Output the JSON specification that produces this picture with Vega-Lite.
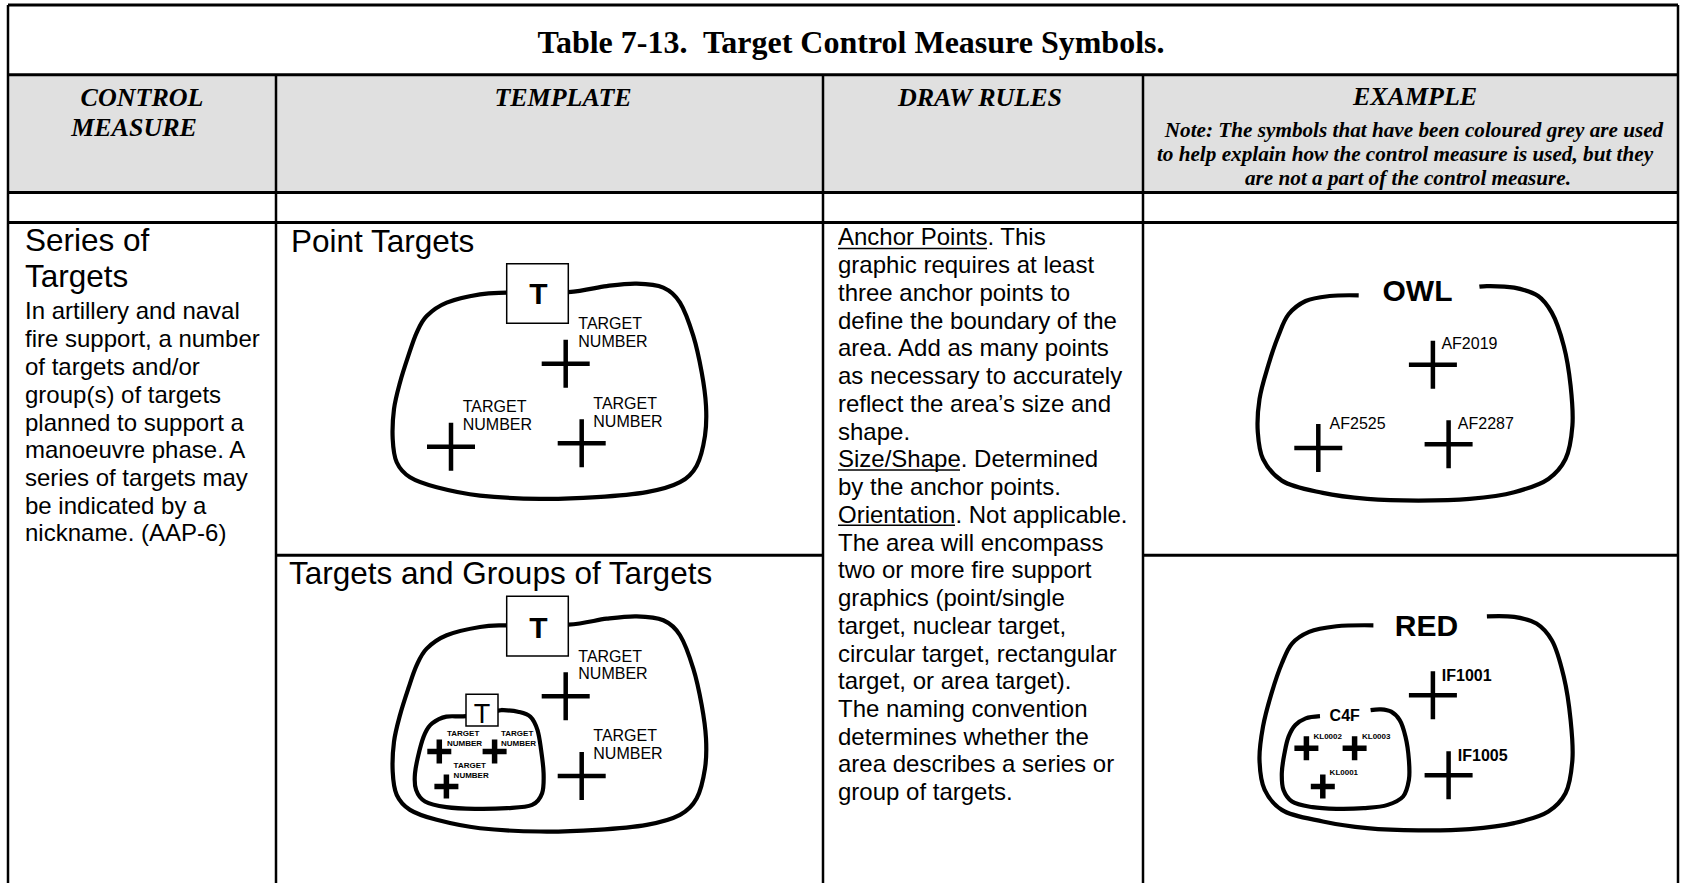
{
  "$schema": "https://vega.github.io/schema/vega-lite/v6.json",
  "width": 1681,
  "height": 885,
  "autosize": {"type": "fit", "contains": "padding"},
  "padding": 0,
  "background": "white",
  "config": {"view": {"stroke": null}},
  "datasets": {
    "band": [{"x": 8, "x2": 1678, "y": 75, "y2": 193}],
    "hlines": [
      {"x": 8, "x2": 1678, "y": 5},
      {"x": 8, "x2": 1678, "y": 75},
      {"x": 8, "x2": 1678, "y": 193},
      {"x": 8, "x2": 1678, "y": 223},
      {"x": 276, "x2": 823, "y": 556.5},
      {"x": 1143, "x2": 1678, "y": 556.5}
    ],
    "vlines": [
      {"x": 8, "y": 5, "y2": 885},
      {"x": 1678, "y": 5, "y2": 885},
      {"x": 276, "y": 75, "y2": 885},
      {"x": 823, "y": 75, "y2": 885},
      {"x": 1143, "y": 75, "y2": 885}
    ],
    "underlines": [
      {"x": 838, "x2": 987, "y": 249},
      {"x": 838, "x2": 960, "y": 471},
      {"x": 838, "x2": 955, "y": 526.5}
    ],
    "closed": [
      {"id": "pt", "i": 1, "x": 506.7, "y": 293.3},
      {"id": "pt", "i": 2, "x": 480, "y": 295},
      {"id": "pt", "i": 3, "x": 446.7, "y": 303.3},
      {"id": "pt", "i": 4, "x": 426.7, "y": 316.7},
      {"id": "pt", "i": 5, "x": 416.7, "y": 333.3},
      {"id": "pt", "i": 6, "x": 408.3, "y": 356.7},
      {"id": "pt", "i": 7, "x": 400, "y": 383.3},
      {"id": "pt", "i": 8, "x": 394, "y": 410},
      {"id": "pt", "i": 9, "x": 392.7, "y": 440},
      {"id": "pt", "i": 10, "x": 396.7, "y": 463.3},
      {"id": "pt", "i": 11, "x": 410, "y": 478.3},
      {"id": "pt", "i": 12, "x": 436.7, "y": 488.3},
      {"id": "pt", "i": 13, "x": 480, "y": 496.7},
      {"id": "pt", "i": 14, "x": 540, "y": 500},
      {"id": "pt", "i": 15, "x": 596.7, "y": 498.3},
      {"id": "pt", "i": 16, "x": 646.7, "y": 493.3},
      {"id": "pt", "i": 17, "x": 680, "y": 483.3},
      {"id": "pt", "i": 18, "x": 696.7, "y": 466.7},
      {"id": "pt", "i": 19, "x": 705, "y": 436.7},
      {"id": "pt", "i": 20, "x": 706, "y": 406.7},
      {"id": "pt", "i": 21, "x": 701.7, "y": 373.3},
      {"id": "pt", "i": 22, "x": 693.3, "y": 336.7},
      {"id": "pt", "i": 23, "x": 680, "y": 303.3},
      {"id": "pt", "i": 24, "x": 663.3, "y": 288.3},
      {"id": "pt", "i": 25, "x": 636.7, "y": 284.3},
      {"id": "pt", "i": 26, "x": 606.7, "y": 286.7},
      {"id": "pt", "i": 27, "x": 568.3, "y": 292.7},
      {"id": "tg", "i": 1, "x": 506.7, "y": 626.7},
      {"id": "tg", "i": 2, "x": 480, "y": 628.4},
      {"id": "tg", "i": 3, "x": 446.7, "y": 636.7},
      {"id": "tg", "i": 4, "x": 426.7, "y": 650.1},
      {"id": "tg", "i": 5, "x": 416.7, "y": 666.7},
      {"id": "tg", "i": 6, "x": 408.3, "y": 690.1},
      {"id": "tg", "i": 7, "x": 400, "y": 716.7},
      {"id": "tg", "i": 8, "x": 394, "y": 743.4},
      {"id": "tg", "i": 9, "x": 392.7, "y": 773.4},
      {"id": "tg", "i": 10, "x": 396.7, "y": 796.7},
      {"id": "tg", "i": 11, "x": 410, "y": 811.7},
      {"id": "tg", "i": 12, "x": 436.7, "y": 821.7},
      {"id": "tg", "i": 13, "x": 480, "y": 830.1},
      {"id": "tg", "i": 14, "x": 540, "y": 833.4},
      {"id": "tg", "i": 15, "x": 596.7, "y": 831.7},
      {"id": "tg", "i": 16, "x": 646.7, "y": 826.7},
      {"id": "tg", "i": 17, "x": 680, "y": 816.7},
      {"id": "tg", "i": 18, "x": 696.7, "y": 800.1},
      {"id": "tg", "i": 19, "x": 705, "y": 770.1},
      {"id": "tg", "i": 20, "x": 706, "y": 740.1},
      {"id": "tg", "i": 21, "x": 701.7, "y": 706.7},
      {"id": "tg", "i": 22, "x": 693.3, "y": 670.1},
      {"id": "tg", "i": 23, "x": 680, "y": 636.7},
      {"id": "tg", "i": 24, "x": 663.3, "y": 621.7},
      {"id": "tg", "i": 25, "x": 636.7, "y": 617.7},
      {"id": "tg", "i": 26, "x": 606.7, "y": 620.1},
      {"id": "tg", "i": 27, "x": 568.3, "y": 626.1},
      {"id": "sg", "i": 1, "x": 466.1, "y": 717.7},
      {"id": "sg", "i": 2, "x": 446.4, "y": 718.3},
      {"id": "sg", "i": 3, "x": 432.1, "y": 725},
      {"id": "sg", "i": 4, "x": 425, "y": 735},
      {"id": "sg", "i": 5, "x": 419.6, "y": 751.7},
      {"id": "sg", "i": 6, "x": 415, "y": 775},
      {"id": "sg", "i": 7, "x": 416.1, "y": 791.7},
      {"id": "sg", "i": 8, "x": 425, "y": 803.3},
      {"id": "sg", "i": 9, "x": 446.4, "y": 809},
      {"id": "sg", "i": 10, "x": 475, "y": 810.7},
      {"id": "sg", "i": 11, "x": 507.1, "y": 810},
      {"id": "sg", "i": 12, "x": 532.1, "y": 806.7},
      {"id": "sg", "i": 13, "x": 542.1, "y": 795},
      {"id": "sg", "i": 14, "x": 543.6, "y": 775},
      {"id": "sg", "i": 15, "x": 541.1, "y": 751.7},
      {"id": "sg", "i": 16, "x": 537.5, "y": 731.7},
      {"id": "sg", "i": 17, "x": 530.4, "y": 718.3},
      {"id": "sg", "i": 18, "x": 517.9, "y": 713.3},
      {"id": "sg", "i": 19, "x": 503.6, "y": 711.7},
      {"id": "sg", "i": 20, "x": 498.2, "y": 712.3}
    ],
    "open": [
      {"id": "owl", "i": 1, "x": 1358.7, "y": 296},
      {"id": "owl", "i": 2, "x": 1329.6, "y": 296.7},
      {"id": "owl", "i": 3, "x": 1305.7, "y": 301.7},
      {"id": "owl", "i": 4, "x": 1288.6, "y": 315},
      {"id": "owl", "i": 5, "x": 1278.3, "y": 336.7},
      {"id": "owl", "i": 6, "x": 1268.1, "y": 366.7},
      {"id": "owl", "i": 7, "x": 1259.5, "y": 400},
      {"id": "owl", "i": 8, "x": 1257.8, "y": 433.3},
      {"id": "owl", "i": 9, "x": 1263, "y": 460},
      {"id": "owl", "i": 10, "x": 1281.8, "y": 481.7},
      {"id": "owl", "i": 11, "x": 1322.8, "y": 494},
      {"id": "owl", "i": 12, "x": 1367.2, "y": 500},
      {"id": "owl", "i": 13, "x": 1418.5, "y": 501.7},
      {"id": "owl", "i": 14, "x": 1469.8, "y": 500},
      {"id": "owl", "i": 15, "x": 1514.2, "y": 493.3},
      {"id": "owl", "i": 16, "x": 1548.4, "y": 480},
      {"id": "owl", "i": 17, "x": 1565.5, "y": 460},
      {"id": "owl", "i": 18, "x": 1572.4, "y": 426.7},
      {"id": "owl", "i": 19, "x": 1570.6, "y": 386.7},
      {"id": "owl", "i": 20, "x": 1563.8, "y": 346.7},
      {"id": "owl", "i": 21, "x": 1551.8, "y": 313.3},
      {"id": "owl", "i": 22, "x": 1538.2, "y": 296.7},
      {"id": "owl", "i": 23, "x": 1514.2, "y": 288.3},
      {"id": "owl", "i": 24, "x": 1486.9, "y": 286.7},
      {"id": "owl", "i": 25, "x": 1479.4, "y": 287.3},
      {"id": "red", "i": 1, "x": 1373.4, "y": 626.7},
      {"id": "red", "i": 2, "x": 1336.5, "y": 627.7},
      {"id": "red", "i": 3, "x": 1309.1, "y": 633.3},
      {"id": "red", "i": 4, "x": 1292, "y": 645},
      {"id": "red", "i": 5, "x": 1281.8, "y": 665},
      {"id": "red", "i": 6, "x": 1271.5, "y": 695},
      {"id": "red", "i": 7, "x": 1263, "y": 728.3},
      {"id": "red", "i": 8, "x": 1259.5, "y": 761.7},
      {"id": "red", "i": 9, "x": 1264.7, "y": 791.7},
      {"id": "red", "i": 10, "x": 1281.8, "y": 811.7},
      {"id": "red", "i": 11, "x": 1322.8, "y": 823.3},
      {"id": "red", "i": 12, "x": 1367.2, "y": 830},
      {"id": "red", "i": 13, "x": 1418.5, "y": 832.3},
      {"id": "red", "i": 14, "x": 1469.8, "y": 831},
      {"id": "red", "i": 15, "x": 1514.2, "y": 825},
      {"id": "red", "i": 16, "x": 1548.4, "y": 813.3},
      {"id": "red", "i": 17, "x": 1565.5, "y": 795},
      {"id": "red", "i": 18, "x": 1572.4, "y": 761.7},
      {"id": "red", "i": 19, "x": 1570.6, "y": 721.7},
      {"id": "red", "i": 20, "x": 1563.8, "y": 678.3},
      {"id": "red", "i": 21, "x": 1551.8, "y": 641.7},
      {"id": "red", "i": 22, "x": 1536.5, "y": 625},
      {"id": "red", "i": 23, "x": 1514.2, "y": 618.3},
      {"id": "red", "i": 24, "x": 1486.9, "y": 617.7},
      {"id": "c4f", "i": 1, "x": 1320, "y": 717.7},
      {"id": "c4f", "i": 2, "x": 1305.7, "y": 720},
      {"id": "c4f", "i": 3, "x": 1295.4, "y": 726.7},
      {"id": "c4f", "i": 4, "x": 1288.6, "y": 738.3},
      {"id": "c4f", "i": 5, "x": 1284.5, "y": 755},
      {"id": "c4f", "i": 6, "x": 1281.8, "y": 775},
      {"id": "c4f", "i": 7, "x": 1283.5, "y": 791.7},
      {"id": "c4f", "i": 8, "x": 1292, "y": 803.3},
      {"id": "c4f", "i": 9, "x": 1312.5, "y": 809},
      {"id": "c4f", "i": 10, "x": 1336.5, "y": 810.7},
      {"id": "c4f", "i": 11, "x": 1363.8, "y": 810},
      {"id": "c4f", "i": 12, "x": 1387.7, "y": 806.7},
      {"id": "c4f", "i": 13, "x": 1403.1, "y": 798.3},
      {"id": "c4f", "i": 14, "x": 1408.9, "y": 781.7},
      {"id": "c4f", "i": 15, "x": 1408.9, "y": 761.7},
      {"id": "c4f", "i": 16, "x": 1405.5, "y": 738.3},
      {"id": "c4f", "i": 17, "x": 1399.7, "y": 721.7},
      {"id": "c4f", "i": 18, "x": 1391.2, "y": 713.3},
      {"id": "c4f", "i": 19, "x": 1380.9, "y": 711},
      {"id": "c4f", "i": 20, "x": 1370.6, "y": 711.7}
    ],
    "boxes": [
      {"x": 506.7, "x2": 568.3, "y": 264.3, "y2": 324},
      {"x": 506.7, "x2": 568.3, "y": 597.7, "y2": 657.4},
      {"x": 466, "x2": 498, "y": 695.7, "y2": 727.7}
    ],
    "crossBig": [
      {"x": 565.7, "y": 364.5}, {"x": 451, "y": 447.7}, {"x": 581.7, "y": 444.3},
      {"x": 565.7, "y": 697.9}, {"x": 581.7, "y": 777.7},
      {"x": 1432.9, "y": 365.7}, {"x": 1318.3, "y": 449}, {"x": 1448.6, "y": 445.3},
      {"x": 1432.9, "y": 696.7}, {"x": 1448.6, "y": 777}
    ],
    "crossSmall": [
      {"x": 439.3, "y": 753.3}, {"x": 494.6, "y": 753.3}, {"x": 446.4, "y": 788.3},
      {"x": 1306.4, "y": 750}, {"x": 1354.6, "y": 750}, {"x": 1322.8, "y": 788.3}
    ],
    "title": [{"x": 851, "y": 53, "t": "Table 7-13.\u00a0 Target Control Measure Symbols."}],
    "heads": [
      {"x": 142, "y": 106, "t": "CONTROL"},
      {"x": 134, "y": 136, "t": "MEASURE"},
      {"x": 563, "y": 106, "t": "TEMPLATE"},
      {"x": 980, "y": 106, "t": "DRAW RULES"},
      {"x": 1415, "y": 105.7, "t": "EXAMPLE"}
    ],
    "note": [
      {"x": 1414, "y": 137.3, "t": "Note: The symbols that have been coloured grey are used"},
      {"x": 1405, "y": 161.7, "t": "to help explain how the control measure is used, but they"},
      {"x": 1408, "y": 185, "t": "are not a part of the control measure."}
    ],
    "large": [
      {"x": 25, "y": 252, "t": "Series of"},
      {"x": 25, "y": 288, "t": "Targets"},
      {"x": 291, "y": 252.7, "t": "Point Targets"},
      {"x": 289, "y": 585, "t": "Targets and Groups of Targets"}
    ],
    "body": [
      {"x": 25, "y": 320, "t": "In artillery and naval"},
      {"x": 25, "y": 347.7, "t": "fire support, a number"},
      {"x": 25, "y": 375.7, "t": "of targets and/or"},
      {"x": 25, "y": 403.7, "t": "group(s) of targets"},
      {"x": 25, "y": 431.7, "t": "planned to support a"},
      {"x": 25, "y": 459.3, "t": "manoeuvre phase. A"},
      {"x": 25, "y": 487.3, "t": "series of targets may"},
      {"x": 25, "y": 515.3, "t": "be indicated by a"},
      {"x": 25, "y": 542.7, "t": "nickname. (AAP-6)"},
      {"x": 838, "y": 246, "t": "Anchor Points. This"},
      {"x": 838, "y": 273.8, "t": "graphic requires at least"},
      {"x": 838, "y": 301.6, "t": "three anchor points to"},
      {"x": 838, "y": 329.4, "t": "define the boundary of the"},
      {"x": 838, "y": 357.2, "t": "area. Add as many points"},
      {"x": 838, "y": 385, "t": "as necessary to accurately"},
      {"x": 838, "y": 412.8, "t": "reflect the area’s size and"},
      {"x": 838, "y": 440.6, "t": "shape."},
      {"x": 838, "y": 468.4, "t": "Size/Shape. Determined"},
      {"x": 838, "y": 496.2, "t": "by the anchor points."},
      {"x": 838, "y": 524, "t": "Orientation. Not applicable."},
      {"x": 838, "y": 551.8, "t": "The area will encompass"},
      {"x": 838, "y": 579.6, "t": "two or more fire support"},
      {"x": 838, "y": 607.4, "t": "graphics (point/single"},
      {"x": 838, "y": 635.2, "t": "target, nuclear target,"},
      {"x": 838, "y": 663, "t": "circular target, rectangular"},
      {"x": 838, "y": 690.8, "t": "target, or area target)."},
      {"x": 838, "y": 718.6, "t": "The naming convention"},
      {"x": 838, "y": 746.4, "t": "determines whether the"},
      {"x": 838, "y": 774.2, "t": "area describes a series or"},
      {"x": 838, "y": 802, "t": "group of targets."}
    ],
    "labels": [
      {"x": 578.3, "y": 330, "t": "TARGET"},
      {"x": 578.3, "y": 347.7, "t": "NUMBER"},
      {"x": 462.7, "y": 413.3, "t": "TARGET"},
      {"x": 462.7, "y": 431, "t": "NUMBER"},
      {"x": 593.3, "y": 410, "t": "TARGET"},
      {"x": 593.3, "y": 427.7, "t": "NUMBER"},
      {"x": 578.3, "y": 663, "t": "TARGET"},
      {"x": 578.3, "y": 680.7, "t": "NUMBER"},
      {"x": 593.3, "y": 742.5, "t": "TARGET"},
      {"x": 593.3, "y": 760.5, "t": "NUMBER"},
      {"x": 1441.4, "y": 350, "t": "AF2019"},
      {"x": 1329.6, "y": 430, "t": "AF2525"},
      {"x": 1457.8, "y": 430, "t": "AF2287"}
    ],
    "labelsBold": [
      {"x": 1441.8, "y": 682.3, "t": "IF1001"},
      {"x": 1457.8, "y": 762.3, "t": "IF1005"},
      {"x": 1329.6, "y": 722.7, "t": "C4F"}
    ],
    "tiny": [
      {"x": 447, "y": 737.7, "t": "TARGET"},
      {"x": 447, "y": 747.7, "t": "NUMBER"},
      {"x": 501, "y": 737.7, "t": "TARGET"},
      {"x": 501, "y": 747.7, "t": "NUMBER"},
      {"x": 453.6, "y": 770, "t": "TARGET"},
      {"x": 453.6, "y": 779.3, "t": "NUMBER"},
      {"x": 1313.5, "y": 740.7, "t": "KL0002"},
      {"x": 1362, "y": 740.7, "t": "KL0003"},
      {"x": 1329.6, "y": 776.7, "t": "KL0001"}
    ],
    "bigBold": [
      {"x": 538.3, "y": 305, "t": "T"},
      {"x": 538.3, "y": 639, "t": "T"},
      {"x": 1417.5, "y": 301.7, "t": "OWL"},
      {"x": 1426.4, "y": 637.7, "t": "RED"}
    ],
    "smallT": [{"x": 482, "y": 725, "t": "T"}]
  },
  "encoding": {
    "x": {"field": "x", "type": "quantitative", "scale": {"domain": [0, 1681], "nice": false, "zero": false}, "axis": null},
    "y": {"field": "y", "type": "quantitative", "scale": {"domain": [0, 885], "nice": false, "zero": false, "reverse": true}, "axis": null}
  },
  "layer": [
    {
      "data": {"name": "band"},
      "mark": {"type": "rect", "fill": "#e0e0e0", "stroke": null},
      "encoding": {"x2": {"field": "x2"}, "y2": {"field": "y2"}}
    },
    {
      "data": {"name": "hlines"},
      "mark": {"type": "rule", "color": "black", "strokeWidth": 3},
      "encoding": {"x2": {"field": "x2"}}
    },
    {
      "data": {"name": "vlines"},
      "mark": {"type": "rule", "color": "black", "strokeWidth": 2.5},
      "encoding": {"y2": {"field": "y2"}}
    },
    {
      "data": {"name": "underlines"},
      "mark": {"type": "rule", "color": "black", "strokeWidth": 1.5},
      "encoding": {"x2": {"field": "x2"}}
    },
    {
      "data": {"name": "closed"},
      "mark": {"type": "line", "interpolate": "cardinal-closed", "color": "black", "strokeWidth": 4.2, "strokeJoin": "round"},
      "encoding": {"detail": {"field": "id", "type": "nominal"}, "order": {"field": "i", "type": "quantitative"}}
    },
    {
      "data": {"name": "open"},
      "mark": {"type": "line", "interpolate": "catmull-rom", "color": "black", "strokeWidth": 4.2, "strokeJoin": "round"},
      "encoding": {"detail": {"field": "id", "type": "nominal"}, "order": {"field": "i", "type": "quantitative"}}
    },
    {
      "data": {"name": "boxes"},
      "mark": {"type": "rect", "fill": "white", "stroke": "black", "strokeWidth": 1.5},
      "encoding": {"x2": {"field": "x2"}, "y2": {"field": "y2"}}
    },
    {
      "data": {"name": "crossBig"},
      "mark": {"type": "point", "shape": "M-1,0H1M0,-1V1", "size": 2304, "filled": false, "stroke": "black", "strokeWidth": 4.5, "opacity": 1}
    },
    {
      "data": {"name": "crossSmall"},
      "mark": {"type": "point", "shape": "M-1,0H1M0,-1V1", "size": 576, "filled": false, "stroke": "black", "strokeWidth": 5.5, "opacity": 1}
    },
    {
      "data": {"name": "title"},
      "mark": {"type": "text", "font": "Liberation Serif", "fontSize": 32, "fontWeight": "bold", "align": "center", "baseline": "alphabetic", "color": "black"},
      "encoding": {"text": {"field": "t"}}
    },
    {
      "data": {"name": "heads"},
      "mark": {"type": "text", "font": "Liberation Serif", "fontSize": 26, "fontWeight": "bold", "fontStyle": "italic", "align": "center", "baseline": "alphabetic", "color": "black"},
      "encoding": {"text": {"field": "t"}}
    },
    {
      "data": {"name": "note"},
      "mark": {"type": "text", "font": "Liberation Serif", "fontSize": 21.2, "fontWeight": "bold", "fontStyle": "italic", "align": "center", "baseline": "alphabetic", "color": "black"},
      "encoding": {"text": {"field": "t"}}
    },
    {
      "data": {"name": "large"},
      "mark": {"type": "text", "font": "Liberation Sans", "fontSize": 31.5, "align": "left", "baseline": "alphabetic", "color": "black"},
      "encoding": {"text": {"field": "t"}}
    },
    {
      "data": {"name": "body"},
      "mark": {"type": "text", "font": "Liberation Sans", "fontSize": 24, "align": "left", "baseline": "alphabetic", "color": "black"},
      "encoding": {"text": {"field": "t"}}
    },
    {
      "data": {"name": "labels"},
      "mark": {"type": "text", "font": "Liberation Sans", "fontSize": 16, "align": "left", "baseline": "alphabetic", "color": "black"},
      "encoding": {"text": {"field": "t"}}
    },
    {
      "data": {"name": "labelsBold"},
      "mark": {"type": "text", "font": "Liberation Sans", "fontSize": 16, "fontWeight": "bold", "align": "left", "baseline": "alphabetic", "color": "black"},
      "encoding": {"text": {"field": "t"}}
    },
    {
      "data": {"name": "tiny"},
      "mark": {"type": "text", "font": "Liberation Sans", "fontSize": 8, "fontWeight": "bold", "align": "left", "baseline": "alphabetic", "color": "black"},
      "encoding": {"text": {"field": "t"}}
    },
    {
      "data": {"name": "bigBold"},
      "mark": {"type": "text", "font": "Liberation Sans", "fontSize": 30, "fontWeight": "bold", "align": "center", "baseline": "alphabetic", "color": "black"},
      "encoding": {"text": {"field": "t"}}
    },
    {
      "data": {"name": "smallT"},
      "mark": {"type": "text", "font": "Liberation Sans", "fontSize": 27, "align": "center", "baseline": "alphabetic", "color": "black"},
      "encoding": {"text": {"field": "t"}}
    }
  ]
}
